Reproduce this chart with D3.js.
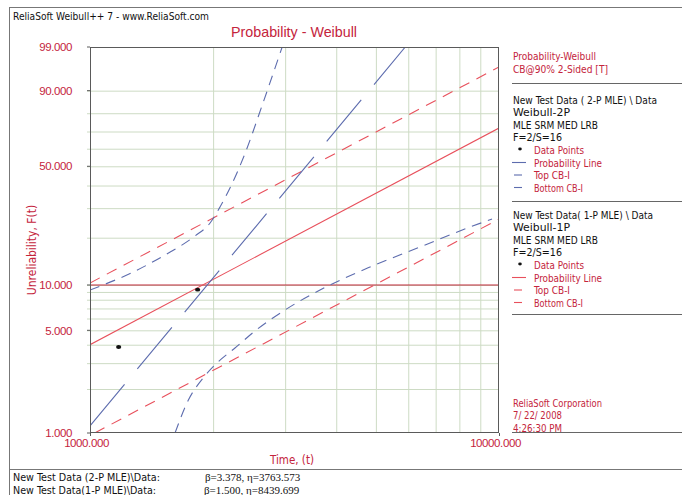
<!DOCTYPE html>
<html><head><meta charset="utf-8">
<script src="https://cdn.jsdelivr.net/npm/d3@7"></script>
<style>body{margin:0;background:#fff}svg{display:block}</style>
</head><body><svg id="c" width="682" height="495"></svg>
<script>
// ---------------- data ----------------
const yGridValues = [2,3,4,5,6,7,8,9,10,20,30,40,50,60,70,80,90];
const yTickLabels = [1,5,10,50,90,99];
const xGridValues = [2000,3000,4000,5000,6000,7000,8000,9000];
const xTickLabels = [1000,10000];
const markerLevel = [10];
const dataTimes = [1175, 1833];
const dataUnrel = [3.86, 9.31];
// 2-parameter fit (blue)
const p2LineT = [1000, 5900];
const p2LineF = [1.12, 99.0];
const p2TopT = [1000,1260,1526,1806,1966,2079,2199,2380,2648,2950];
const p2TopF = [9.27,11.96,15.60,20.49,24.55,30.46,38.80,55.79,84.94,99.0];
const p2BotT = [1614,1736,1900,2067,2262,2532,2998,3651,4838,6411,8494,9614];
const p2BotF = [1.0,1.66,2.42,3.10,3.80,4.95,6.84,9.27,13.08,17.51,23.23,25.94];
// 1-parameter fit (red)
const p1LineT = [1000, 10000];
const p1LineF = [4.0, 72.0];
const p1TopT = [1000, 10000];
const p1TopF = [10.3, 96.5];
const p1BotT = [1027, 10000];
const p1BotF = [1.0, 25.9];
// texts
const headerText = "ReliaSoft Weibull++ 7 - www.ReliaSoft.com";
const titleText = "Probability - Weibull";
const xTitle = "Time, (t)";
const yTitle = "Unreliability, F(t)";
const legendHeader = ["Probability-Weibull", "CB@90% 2-Sided [T]"];
const seriesNames = ["New Test Data ( 2-P MLE) \\ Data", "New Test Data( 1-P MLE) \\ Data"];
const seriesModels = ["Weibull-2P", "Weibull-1P"];
const seriesMethods = ["MLE SRM MED LRB", "MLE SRM MED LRB"];
const seriesCounts = ["F=2/S=16", "F=2/S=16"];
const legendItems = ["Data Points", "Probability Line", "Top CB-I", "Bottom CB-I"];
const footerText = ["ReliaSoft Corporation", "7/ 22/ 2008", "4:26:30 PM"];
const paramLabels = ["New Test Data (2-P MLE)\\Data:", "New Test Data(1-P MLE)\\Data:"];
const paramValues = ["\u03b2=3.378, \u03b7=3763.573", "\u03b2=1.500, \u03b7=8439.699"];

// ---------------- styles ----------------
const RED_TXT = "#c4243c", BLUE = "#5d6cae", RED = "#e8505c", MARK = "#c0283a";
const GRID = "#cddbc4", FRAME = "#777", AXIS = "#5a5a5a";
const NARROW = "'Liberation Sans Narrow','DejaVu Sans Condensed',sans-serif";
const L = 90, R = 499, T = 47, B = 433;

const svg = d3.select("#c");

// scales
const x = d3.scaleLog().domain([1000, 10000]).range([L, R]);
const wt = F => Math.log(-Math.log(1 - F / 100));
function weibullScale() {
  const lin = d3.scaleLinear().domain([wt(1), wt(99)]).range([B, T]);
  const s = F => lin(wt(F));
  s.domain = () => [1, 99];
  s.range = () => lin.range();
  s.copy = () => s;
  s.ticks = () => yGridValues;
  s.tickFormat = () => d3.format(".3f");
  return s;
}
const y = weibullScale();

function txt(g, s, px, py, o = {}) {
  const t = g.append("text").attr("x", px).attr("y", py).text(s)
    .attr("font-family", o.family || NARROW)
    .attr("font-size", o.size || 10.5)
    .attr("fill", o.fill || "#111")
    .attr("text-anchor", o.anchor || "start");
  if (o.w) t.attr("textLength", o.w).attr("lengthAdjust", "spacingAndGlyphs");
  return t;
}

// outer frame
svg.append("line").attr("x1", 9).attr("x2", 682).attr("y1", 7.5).attr("y2", 7.5).attr("stroke", FRAME);
svg.append("line").attr("x1", 9.5).attr("x2", 9.5).attr("y1", 7).attr("y2", 495).attr("stroke", FRAME);
svg.append("line").attr("x1", 9).attr("x2", 682).attr("y1", 469.5).attr("y2", 469.5).attr("stroke", FRAME);

txt(svg, headerText, 13, 19.5, {w: 196, size: 11});
txt(svg, titleText, 231, 37, {family: "'Liberation Sans',sans-serif", size: 15, fill: RED_TXT, w: 126});

// grid
const gy = svg.append("g").attr("transform", `translate(${L - 3},0)`)
  .call(d3.axisLeft(y).tickValues(yGridValues).tickSize(-(R - L + 3)).tickFormat(""));
gy.select(".domain").remove();
gy.selectAll(".tick line").attr("stroke", GRID);
const gx = svg.append("g").attr("transform", `translate(0,${B})`)
  .call(d3.axisBottom(x).tickValues(xGridValues).tickSize(-(B - T)).tickFormat(""));
gx.select(".domain").remove();
gx.selectAll(".tick line").attr("stroke", GRID);

// y labels
const ly = svg.append("g").attr("transform", `translate(${L - 3},0)`)
  .call(d3.axisLeft(y).tickValues(yTickLabels).tickSize(0).tickPadding(15).tickFormat(d3.format(".3f")));
ly.select(".domain").remove();
ly.selectAll("text").attr("font-family", "'Liberation Sans',sans-serif").attr("font-size", 11.5)
  .attr("fill", RED_TXT).attr("letter-spacing", -0.4);
svg.append("g").selectAll("line").data(yTickLabels).join("line")
  .attr("x1", L - 3).attr("x2", L).attr("y1", d => y(d)).attr("y2", d => y(d)).attr("stroke", AXIS);

// x labels
const lx = svg.append("g").attr("transform", `translate(0,${B})`)
  .call(d3.axisBottom(x).tickValues(xTickLabels).tickSize(3).tickPadding(3).tickFormat(d3.format(".3f")));
lx.select(".domain").remove();
lx.selectAll(".tick line").attr("stroke", AXIS);
lx.selectAll("text").attr("font-family", "'Liberation Sans',sans-serif").attr("font-size", 11.5)
  .attr("fill", RED_TXT).attr("letter-spacing", -0.4).attr("dx", -4);

txt(svg, xTitle, 292, 464, {anchor: "middle", fill: RED_TXT, size: 11.5});
txt(svg, yTitle, 0, 0, {anchor: "middle", fill: RED_TXT, size: 12})
  .attr("transform", "translate(36,250) rotate(-90)");

// clip
svg.append("clipPath").attr("id", "clip").append("rect")
  .attr("x", L).attr("y", T).attr("width", R - L).attr("height", B - T);
const plot = svg.append("g").attr("clip-path", "url(#clip)");

const line = d3.line().x(d => x(d[0])).y(d => y(d[1])).curve(d3.curveMonotoneX);
const zipP = (a, b) => a.map((v, i) => [v, b[i]]);
function drawLine(T_, F_, color, dash) {
  plot.append("path").datum(zipP(T_, F_)).attr("d", line)
    .attr("fill", "none").attr("stroke", color).attr("stroke-width", 1.1)
    .attr("stroke-dasharray", dash || null);
}

plot.selectAll(".mark").data(markerLevel).join("line").attr("class", "mark")
  .attr("x1", L).attr("x2", R).attr("y1", d => y(d)).attr("y2", d => y(d))
  .attr("stroke", MARK).attr("stroke-width", 1.1);

drawLine(p1TopT, p1TopF, RED, "11,8");
drawLine(p1BotT, p1BotF, RED, "11,8");
drawLine(p1LineT, p1LineF, RED, null);
drawLine(p2TopT, p2TopF, BLUE, "10,7");
drawLine(p2BotT, p2BotF, BLUE, "10,7");
drawLine(p2LineT, p2LineF, BLUE, "54,20");

plot.selectAll(".pt").data(zipP(dataTimes, dataUnrel)).join("ellipse").attr("class", "pt")
  .attr("cx", d => x(d[0])).attr("cy", d => y(d[1])).attr("rx", 2.6).attr("ry", 1.9).attr("fill", "#111");

svg.append("rect").attr("x", L + 0.5).attr("y", T + 0.5).attr("width", R - L - 1).attr("height", B - T - 1)
  .attr("fill", "none").attr("stroke", AXIS);

// ---------------- legend ----------------
const lg = svg.append("g");
txt(lg, legendHeader[0], 513, 60, {fill: RED_TXT, w: 83});
txt(lg, legendHeader[1], 513, 72.5, {fill: RED_TXT, w: 95});
const sepY = [83, 201, 314, 432];
lg.selectAll(".sep").data(sepY).join("line").attr("class", "sep")
  .attr("x1", 512).attr("x2", 682).attr("y1", d => d + 0.5).attr("y2", d => d + 0.5).attr("stroke", "#666");

const blockTop = [104, 219];
const blockColor = [BLUE, RED];
const nameW = [144, 140];
blockTop.forEach((b0, k) => {
  txt(lg, seriesNames[k], 513, b0, {w: nameW[k]});
  txt(lg, seriesModels[k], 513, b0 + 12.4, {w: 57});
  txt(lg, seriesMethods[k], 513, b0 + 24.8, {w: 85});
  txt(lg, seriesCounts[k], 513, b0 + 37.2, {w: 49});
  const itemW = [50, 68, 36, 49];
  legendItems.forEach((it, j) => {
    const yy = b0 + 50 + j * 12.5;
    txt(lg, it, 534, yy, {fill: RED_TXT, w: itemW[j]});
    const cy = yy - 4;
    if (j === 0) {
      lg.append("ellipse").attr("cx", 520).attr("cy", cy - 1).attr("rx", 1.8).attr("ry", 1.4).attr("fill", "#111");
    } else {
      const x1 = j === 1 ? 512 : 514, x2 = j === 1 ? 526 : 522;
      lg.append("line").attr("x1", x1).attr("x2", x2).attr("y1", cy).attr("y2", cy)
        .attr("stroke", blockColor[k]).attr("stroke-width", 1.1);
    }
  });
});

const footW = [89, 49, 49];
footerText.forEach((s, i) => txt(lg, s, 513, 407 + i * 12.4, {fill: RED_TXT, w: footW[i]}));

// ---------------- bottom parameter table ----------------
const labW = [147, 143];
paramLabels.forEach((s, i) => {
  txt(svg, s, 13, 481 + i * 12.5, {w: labW[i], size: 11});
  txt(svg, paramValues[i], 205 - i * 1, 481 + i * 12.5, {family: "'Liberation Serif',serif", size: 11});
});
</script></body></html>
